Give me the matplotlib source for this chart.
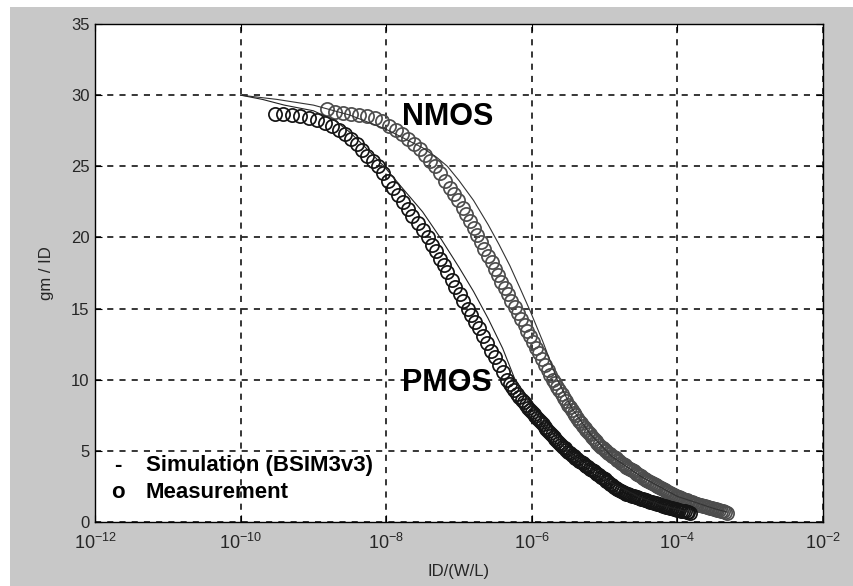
import matplotlib
matplotlib.use("Agg")
import matplotlib.pyplot as plt
from matplotlib.patches import Rectangle
import numpy as np

plt.rcParams['font.family'] = ['Liberation Sans', 'DejaVu Sans']
plt.rcParams['mathtext.fontset'] = 'custom'
plt.rcParams['mathtext.rm'] = 'Liberation Sans'

# log10(ID/(W/L)) and gm/ID
pmos_meas_logid = [
    -9.53, -9.42, -9.30, -9.18, -9.06, -8.95, -8.84, -8.74, -8.65, -8.56,
    -8.48, -8.40, -8.33, -8.26, -8.18, -8.11, -8.04, -7.97, -7.90, -7.84,
    -7.77, -7.70, -7.64, -7.57, -7.50, -7.43,
    -7.37, -7.32, -7.26, -7.21, -7.16, -7.10, -7.05, -6.99, -6.94, -6.88,
    -6.83, -6.78, -6.73, -6.67, -6.62, -6.56, -6.51, -6.45, -6.40, -6.34,
    -6.30, -6.27, -6.24, -6.20, -6.17, -6.14, -6.11, -6.08,
    -6.050, -6.025, -6.000, -5.975, -5.950, -5.925, -5.900, -5.875, -5.850, -5.825,
    -5.800, -5.775, -5.750, -5.725, -5.700, -5.675, -5.650, -5.625, -5.600, -5.575,
    -5.550, -5.525, -5.500, -5.475, -5.450, -5.425, -5.400, -5.375, -5.350, -5.325,
    -5.300, -5.275, -5.250, -5.225, -5.200, -5.175, -5.150, -5.125, -5.100, -5.075,
    -5.050, -5.025, -5.000, -4.975, -4.950, -4.925, -4.900, -4.875, -4.850, -4.825,
    -4.800, -4.775, -4.750, -4.725, -4.700, -4.675, -4.650, -4.625, -4.600, -4.575,
    -4.550, -4.525, -4.500, -4.475, -4.450, -4.425, -4.400, -4.375, -4.350, -4.325,
    -4.300, -4.275, -4.250, -4.225, -4.200, -4.175, -4.150, -4.125, -4.100, -4.075,
    -4.050, -4.025, -4.000, -3.975, -3.950, -3.925, -3.900, -3.875, -3.850, -3.830,
]
pmos_meas_gm = [
    28.70, 28.70, 28.62, 28.52, 28.40, 28.25, 28.05, 27.82, 27.56, 27.25,
    26.92, 26.60, 26.15, 25.75, 25.38, 25.00, 24.50, 23.98, 23.46, 22.98,
    22.50, 21.98, 21.52, 21.02, 20.50, 20.00,
    19.48, 19.02, 18.50, 18.05, 17.58, 17.02, 16.55, 16.00, 15.52, 15.00,
    14.55, 14.08, 13.62, 13.05, 12.60, 12.05, 11.58, 11.02, 10.55, 10.00,
    9.70, 9.48, 9.28, 9.00, 8.80, 8.60, 8.40, 8.20,
    8.00, 7.86, 7.72, 7.58, 7.43, 7.29, 7.15, 7.00, 6.86, 6.71,
    6.57, 6.43, 6.28, 6.14, 6.00, 5.86, 5.72, 5.58, 5.44, 5.30,
    5.17, 5.03, 4.92, 4.82, 4.72, 4.62, 4.52, 4.42, 4.32, 4.22,
    4.12, 4.02, 3.93, 3.84, 3.74, 3.65, 3.56, 3.46, 3.37, 3.28,
    3.19, 3.09, 3.00, 2.90, 2.80, 2.70, 2.59, 2.49, 2.42, 2.35,
    2.28, 2.21, 2.14, 2.07, 2.00, 1.95, 1.91, 1.86, 1.82, 1.77,
    1.73, 1.68, 1.64, 1.60, 1.56, 1.52, 1.48, 1.43, 1.39, 1.35,
    1.31, 1.27, 1.23, 1.19, 1.15, 1.11, 1.07, 1.03, 0.99, 0.95,
    0.92, 0.89, 0.86, 0.83, 0.80, 0.77, 0.74, 0.71, 0.68, 0.65,
]

nmos_meas_logid = [
    -8.81, -8.70, -8.59, -8.48, -8.37, -8.26, -8.16, -8.06, -7.96, -7.87,
    -7.78, -7.70, -7.62, -7.54, -7.47, -7.40, -7.33, -7.26, -7.19, -7.13,
    -7.07, -7.01, -6.95, -6.90, -6.85, -6.80, -6.75, -6.70, -6.65, -6.60,
    -6.55, -6.50, -6.46, -6.42, -6.37, -6.33, -6.28, -6.23, -6.19, -6.15,
    -6.10, -6.06, -6.02, -5.98, -5.94, -5.90, -5.86, -5.82, -5.78, -5.75,
    -5.71, -5.68, -5.65, -5.62, -5.59, -5.56, -5.53,
    -5.500, -5.475, -5.450, -5.425, -5.400, -5.375, -5.350, -5.325, -5.300, -5.275,
    -5.250, -5.225, -5.200, -5.175, -5.150, -5.125, -5.100, -5.075, -5.050, -5.025,
    -5.000, -4.975, -4.950, -4.925, -4.900, -4.875, -4.850, -4.825, -4.800, -4.775,
    -4.750, -4.725, -4.700, -4.675, -4.650, -4.625, -4.600, -4.575, -4.550, -4.525,
    -4.500, -4.475, -4.450, -4.425, -4.400, -4.375, -4.350, -4.325, -4.300, -4.275,
    -4.250, -4.225, -4.200, -4.175, -4.150, -4.125, -4.100, -4.075, -4.050, -4.025,
    -4.000, -3.975, -3.950, -3.925, -3.900, -3.875, -3.850, -3.825, -3.800, -3.775,
    -3.750, -3.725, -3.700, -3.675, -3.650, -3.625, -3.600, -3.575, -3.550, -3.525,
    -3.500, -3.475, -3.450, -3.425, -3.400, -3.375, -3.350, -3.320,
]
nmos_meas_gm = [
    29.00, 28.85, 28.72, 28.65, 28.58, 28.50, 28.40, 28.15, 27.85, 27.55,
    27.25, 26.95, 26.60, 26.20, 25.80, 25.40, 25.00, 24.50, 24.00, 23.50,
    23.05, 22.60, 22.10, 21.62, 21.15, 20.65, 20.15, 19.65, 19.20, 18.72,
    18.25, 17.78, 17.35, 16.90, 16.45, 16.00, 15.55, 15.10, 14.70, 14.30,
    13.85, 13.45, 13.05, 12.65, 12.25, 11.85, 11.45, 11.05, 10.65, 10.35,
    10.00, 9.75, 9.50, 9.25, 9.00, 8.75, 8.50,
    8.25, 8.06, 7.88, 7.69, 7.50, 7.31, 7.13, 6.94, 6.77, 6.61,
    6.46, 6.30, 6.15, 5.99, 5.83, 5.68, 5.52, 5.41, 5.30, 5.19,
    5.07, 4.96, 4.86, 4.76, 4.67, 4.57, 4.47, 4.37, 4.27, 4.18,
    4.08, 3.98, 3.90, 3.81, 3.73, 3.64, 3.56, 3.47, 3.38, 3.29,
    3.20, 3.12, 3.05, 2.97, 2.90, 2.82, 2.75, 2.67, 2.60, 2.52,
    2.45, 2.38, 2.30, 2.22, 2.15, 2.09, 2.03, 1.96, 1.90, 1.84,
    1.78, 1.73, 1.68, 1.63, 1.58, 1.53, 1.48, 1.43, 1.38, 1.34,
    1.30, 1.26, 1.22, 1.17, 1.13, 1.09, 1.05, 1.02, 0.98, 0.95,
    0.92, 0.88, 0.85, 0.82, 0.78, 0.75, 0.72, 0.66,
]

pmos_sim_logid = [-10.0, -9.7, -9.4, -9.0, -8.7, -8.5, -8.3, -8.03, -7.8, -7.5,
                  -7.26, -7.0, -6.8, -6.6, -6.4, -6.23, -6.0, -5.7, -5.5, -5.0,
                  -4.5, -4.2, -3.85]
pmos_sim_gm = [30.0, 29.7, 29.3, 28.9, 28.2, 27.4, 26.4, 25.0, 23.6, 21.8,
               20.0, 17.9, 16.2, 14.3, 12.2, 10.0, 8.0, 6.1, 4.9, 3.0,
               1.7, 1.15, 0.7]

nmos_sim_logid = [-10.0, -9.5, -9.0, -8.5, -8.0, -7.5, -7.3, -7.16, -7.0, -6.8,
                  -6.6, -6.45, -6.3, -6.15, -6.02, -5.85, -5.65, -5.45, -5.2, -4.9,
                  -4.5, -4.0, -3.5, -3.32]
nmos_sim_gm = [30.0, 29.7, 29.3, 28.6, 27.6, 26.3, 25.6, 25.0, 24.0, 22.6,
               20.9, 19.5, 18.0, 16.3, 14.8, 12.7, 10.0, 8.0, 6.2, 4.6,
               3.2, 1.8, 0.95, 0.7]

x_ticks = [1e-12, 1e-10, 1e-8, 1e-6, 1e-4, 1e-2]
x_tick_labels = [r'$10^{-12}$', r'$10^{-10}$', r'$10^{-8}$', r'$10^{-6}$',
                 r'$10^{-4}$', r'$10^{-2}$']
y_ticks = [0, 5, 10, 15, 20, 25, 30, 35]

fig = plt.figure(figsize=(8.54, 5.86), dpi=100, facecolor='white')
fig.patches.append(Rectangle((10 / 854, 0), 1, 1 - 7 / 586, transform=fig.transFigure,
                             facecolor='#c8c8c8', edgecolor='none', zorder=-10))
ax = fig.add_axes([95 / 854, 1 - 522 / 586, 728 / 854, 498 / 586])
ax.set_facecolor('white')

ax.plot(10.0 ** np.array(nmos_meas_logid), nmos_meas_gm, linestyle='none', marker='o',
        markersize=9.5, markerfacecolor='none', markeredgecolor='#4d4d4d',
        markeredgewidth=1.25)
ax.plot(10.0 ** np.array(pmos_meas_logid), pmos_meas_gm, linestyle='none', marker='o',
        markersize=9.5, markerfacecolor='none', markeredgecolor='#141414',
        markeredgewidth=1.25)
ax.plot(10.0 ** np.array(nmos_sim_logid), nmos_sim_gm, color='#333333', linewidth=0.8)
ax.plot(10.0 ** np.array(pmos_sim_logid), pmos_sim_gm, color='#222222', linewidth=0.8)

ax.set_xscale('log')
ax.set_xlim(1e-12, 1e-2)
ax.set_ylim(0, 35)
ax.set_xticks(x_ticks)
ax.set_xticklabels(x_tick_labels)
ax.set_yticks(y_ticks)
ax.minorticks_off()
ax.tick_params(direction='in', length=5, top=True, right=True, labelsize=13,
               labelcolor='#262626', pad=8)
ax.tick_params(axis='y', labelsize=12, pad=4)
ax.grid(True, color='black', linestyle=(0, (4, 4)), linewidth=1.1)
for s in ax.spines.values():
    s.set_linewidth(1.0)

ax.set_xlabel('ID/(W/L)', fontsize=12, color='#262626', labelpad=8)
ax.set_ylabel('gm / ID', fontsize=12, color='#262626', labelpad=12)

ax.text(10 ** -7.15, 28.45, 'NMOS', fontsize=22, fontweight='bold', ha='center', va='center')
ax.text(10 ** -7.16, 9.75, 'PMOS', fontsize=22, fontweight='bold', ha='center', va='center')
ax.text(10 ** -11.68, 3.95, '-', fontsize=16, fontweight='bold', ha='center', va='center')
ax.text(10 ** -11.3, 3.95, 'Simulation (BSIM3v3)', fontsize=16, fontweight='bold',
        ha='left', va='center')
ax.text(10 ** -11.68, 2.1, 'o', fontsize=16, fontweight='bold', ha='center', va='center')
ax.text(10 ** -11.3, 2.1, 'Measurement', fontsize=16, fontweight='bold',
        ha='left', va='center')

fig.savefig('out.png', dpi=100)
